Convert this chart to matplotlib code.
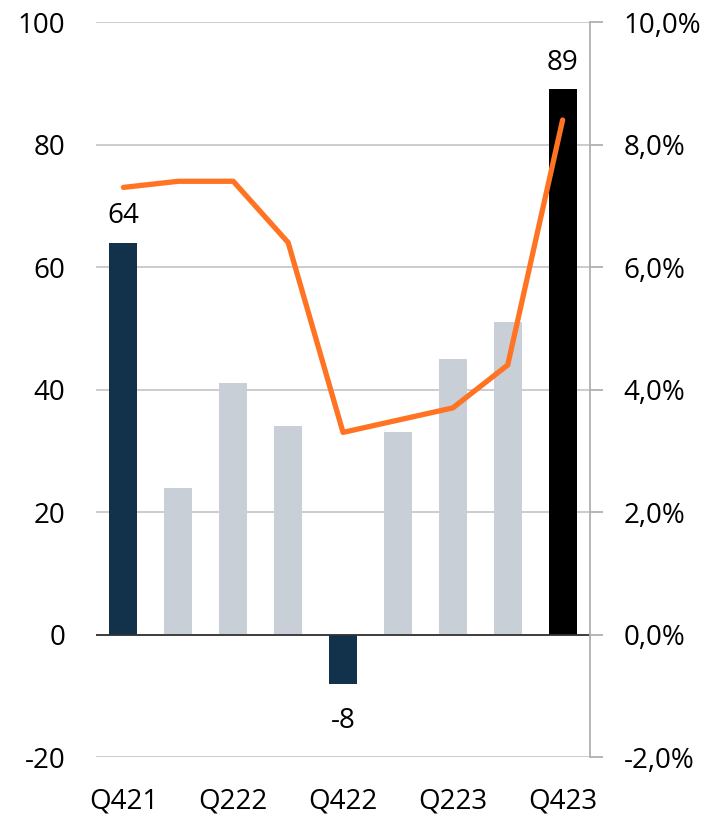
import matplotlib.pyplot as plt
from matplotlib.ticker import FuncFormatter

plt.rcParams['font.family'] = ['Open Sans', 'DejaVu Sans']
plt.rcParams['axes.unicode_minus'] = False

# Data
quarters = ['Q421', 'Q122', 'Q222', 'Q322', 'Q422', 'Q123', 'Q223', 'Q323', 'Q423']
bar_values = [64, 24, 41, 34, -8, 33, 45, 51, 89]
margin_pct = [7.3, 7.4, 7.4, 6.4, 3.3, 3.5, 3.7, 4.4, 8.4]
labelled_bars = [0, 4, 8]

navy = '#12314b'
grey = '#c9cfd6'
orange = '#ff7322'
bar_colors = [navy, grey, grey, grey, navy, grey, grey, grey, '#000000']

fig = plt.figure(figsize=(7.24, 8.16), dpi=100)
ax = fig.add_axes([0.1326, 0.0723, 0.6824, 0.9007])

x = list(range(len(quarters)))
ax.bar(x, bar_values, width=0.51, color=bar_colors, zorder=2)

ax.set_ylim(-20, 100)
ax.set_yticks(range(-20, 101, 20))
ax.set_xlim(-0.5, len(quarters) - 0.5)
ax.yaxis.grid(True, color='#c8c8cc', linewidth=1.3, zorder=0)
ax.axhline(0, color='#333333', linewidth=1.3, zorder=3)

for s in ['top', 'left', 'bottom', 'right']:
    ax.spines[s].set_visible(False)
ax.tick_params(axis='y', length=0, labelsize=20, pad=22)
ax.tick_params(axis='x', length=0, labelsize=20, pad=22)
ax.set_xticks(x[::2])
ax.set_xticklabels(quarters[::2])

# bar value labels
for i in labelled_bars:
    v = bar_values[i]
    if v >= 0:
        ax.annotate(str(v), (x[i], v), xytext=(0, 9), textcoords='offset points',
                    ha='center', va='bottom', fontsize=20)
    else:
        ax.annotate(str(v), (x[i], v), xytext=(0, -17), textcoords='offset points',
                    ha='center', va='top', fontsize=20)

# margin line on right axis
ax2 = ax.twinx()
ax2.plot(x, margin_pct, color=orange, linewidth=3.8, solid_capstyle='round', zorder=4)
ax2.set_ylim(-2, 10)
ax2.set_yticks(range(-2, 11, 2))
ax2.yaxis.set_major_formatter(FuncFormatter(lambda v, p: f'{v:.1f}%'.replace('.', ',')))
for s in ['top', 'left', 'bottom']:
    ax2.spines[s].set_visible(False)
ax2.spines['right'].set_color('#b0b0b0')
ax2.spines['right'].set_linewidth(1.3)
ax2.tick_params(axis='y', length=9, width=1.3, color='#b0b0b0', labelsize=20, pad=15)

fig.savefig('out.png', dpi=100)
